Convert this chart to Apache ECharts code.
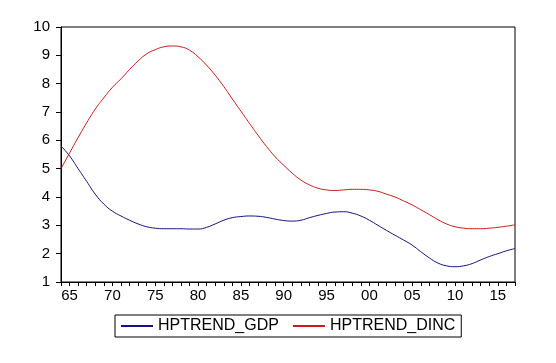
<!DOCTYPE html>
<html><head><meta charset="utf-8">
<script src="https://cdn.jsdelivr.net/npm/echarts@6/dist/echarts.min.js"></script>
<style>html,body{margin:0;padding:0;background:#fff}#c{width:556px;height:363px}</style>
</head><body><div id="c"></div>
<script>
var years = [];
for (var y = 1964; y <= 2017; y++) years.push(String(y % 100).padStart(2, '0'));
var gdp = [5.8,5.45,5.0,4.55,4.1,3.75,3.5,3.33,3.18,3.05,2.95,2.9,2.88,2.88,2.88,2.87,2.87,2.93,3.05,3.18,3.27,3.31,3.33,3.32,3.28,3.22,3.17,3.15,3.18,3.27,3.35,3.42,3.47,3.48,3.43,3.33,3.18,3.0,2.82,2.65,2.48,2.3,2.07,1.85,1.67,1.57,1.54,1.57,1.65,1.78,1.9,2.0,2.1,2.18];
var dinc = [5.0,5.55,6.1,6.62,7.1,7.5,7.87,8.17,8.5,8.8,9.05,9.2,9.3,9.33,9.3,9.18,8.95,8.65,8.3,7.9,7.46,7.03,6.6,6.18,5.78,5.42,5.12,4.84,4.6,4.43,4.31,4.25,4.23,4.25,4.27,4.27,4.25,4.2,4.1,4.0,3.86,3.72,3.55,3.38,3.2,3.05,2.95,2.9,2.88,2.88,2.9,2.93,2.97,3.02];
var names = ['HPTREND_GDP','HPTREND_DINC'];
var chart = echarts.init(document.getElementById('c'), null, {renderer:'canvas'});
var font = 'Liberation Sans';
chart.setOption({
  animation:false,
  backgroundColor:'#fff',
  grid:{left:61,top:27,right:41,bottom:81,show:true,borderColor:'#000',borderWidth:1,backgroundColor:'transparent'},
  legend:{
    bottom:26, left:115,
    data:names,
    borderColor:'#000', borderWidth:1, padding:[3,6,3,6],
    itemWidth:32, itemHeight:2, itemGap:14,
    textStyle:{fontFamily:font,fontSize:16,color:'#000'},
    icon:'rect'
  },
  xAxis:{
    type:'category', data:years, boundaryGap:false,
    axisLine:{lineStyle:{color:'#000',width:1}},
    axisTick:{interval:0,length:4,lineStyle:{color:'#000'}},
    axisLabel:{interval:function(i,v){return (1964+i)%5===0;},color:'#000',fontFamily:font,fontSize:15,margin:6},
    splitLine:{show:false}
  },
  yAxis:{
    type:'value', min:1, max:10, interval:1,
    axisLine:{show:true,lineStyle:{color:'#000',width:1}},
    axisTick:{show:true,length:5,lineStyle:{color:'#000'}},
    axisLabel:{color:'#000',fontFamily:font,fontSize:15,margin:11},
    splitLine:{show:false}
  },
  series:[
    {name:names[0],type:'line',data:gdp,smooth:true,symbol:'none',lineStyle:{color:'#14147f',width:1},itemStyle:{color:'#14147f'}},
    {name:names[1],type:'line',data:dinc,smooth:true,symbol:'none',lineStyle:{color:'#cc1a1a',width:1},itemStyle:{color:'#cc1a1a'}}
  ]
});
</script></body></html>
